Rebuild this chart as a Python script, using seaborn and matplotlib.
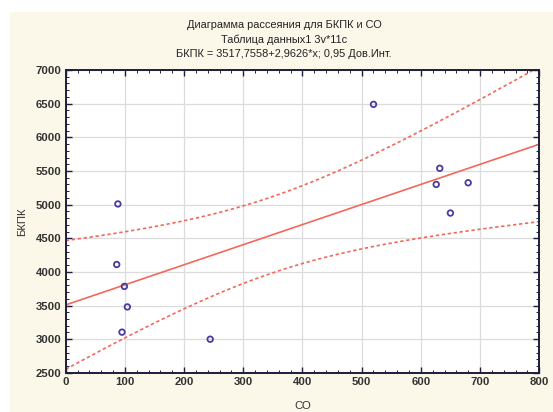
import numpy as np
import pandas as pd
import matplotlib
matplotlib.use("Agg")
import matplotlib.pyplot as plt
from matplotlib.ticker import MultipleLocator
from matplotlib.patches import Rectangle
import seaborn as sns

# Data
co = [520, 88, 86, 99, 104, 95, 244, 632, 626, 680, 650]
bkpk = [6490, 5010, 4110, 3785, 3480, 3105, 3000, 5540, 5300, 5325, 4875]

title_lines = ["Диаграмма рассеяния для БКПК и СО",
               "Таблица данных1 3v*11c",
               "БКПК = 3517,7558+2,9626*x; 0,95 Дов.Инт."]
x_label = "СО"
y_label = "БКПК"
x_ticks = [0, 100, 200, 300, 400, 500, 600, 700, 800]
y_ticks = [2500, 3000, 3500, 4000, 4500, 5000, 5500, 6000, 6500, 7000]
t_crit = 2.262  # t(0.975, df=9)

sns.set_theme(style="white")
plt.rcParams['font.family'] = ['Liberation Sans', 'DejaVu Sans']

bg = "#FBF8EA"
red = "#F2695A"
blue = "#4A3C9E"
spine_c = "#1E1E3C"

fig = plt.figure(figsize=(5.53, 4.12), dpi=100, facecolor="white")
fig.patches.append(Rectangle((10 / 553, 0), 1, 1 - 12 / 412, transform=fig.transFigure,
                             facecolor=bg, edgecolor="none", zorder=-10))
ax = fig.add_axes([0.119, 0.095, 0.856, 0.735])
ax.set_facecolor("white")

x = np.array(co, float)
y = np.array(bkpk, float)
n = len(x)
slope, intercept = np.polyfit(x, y, 1)
resid = y - (intercept + slope * x)
s = np.sqrt(np.sum(resid**2) / (n - 2))
xbar = x.mean()
sxx = np.sum((x - xbar) ** 2)
xs = np.linspace(0, 800, 300)
yh = intercept + slope * xs
se = s * np.sqrt(1 / n + (xs - xbar) ** 2 / sxx)
fit = pd.DataFrame({"x": xs, "fit": yh, "lo": yh - t_crit * se, "hi": yh + t_crit * se})

sns.lineplot(data=fit, x="x", y="fit", ax=ax, color=red, lw=1.2)
sns.lineplot(data=fit, x="x", y="lo", ax=ax, color=red, lw=1.2, linestyle=(0, (2.0, 1.6)))
sns.lineplot(data=fit, x="x", y="hi", ax=ax, color=red, lw=1.2, linestyle=(0, (2.0, 1.6)))
sns.scatterplot(x=co, y=bkpk, ax=ax, marker="o", s=16, facecolor="none",
                edgecolor=blue, linewidth=1.3, zorder=5)

ax.set_xlim(0, 800)
ax.set_ylim(2500, 7000)
ax.set_xticks(x_ticks)
ax.set_yticks(y_ticks)
ax.xaxis.set_minor_locator(MultipleLocator(20))
ax.yaxis.set_minor_locator(MultipleLocator(100))
ax.grid(True, which="major", color="#DCDCDC", lw=0.9)
ax.set_axisbelow(True)
ax.tick_params(which="both", direction="in", top=True, right=True, bottom=True, left=True,
               color=spine_c)
ax.tick_params(which="major", length=4, width=1.0, labelsize=8.2, labelcolor="#333333", pad=3)
ax.tick_params(which="minor", length=2, width=0.7)
for lab in ax.get_xticklabels() + ax.get_yticklabels():
    lab.set_fontweight("bold")
for sp in ax.spines.values():
    sp.set_color(spine_c)
    sp.set_linewidth(1.4)

ax.set_xlabel(x_label, fontsize=8.2, color="#333333", labelpad=10)
ax.set_ylabel(y_label, fontsize=8.2, color="#333333", labelpad=6)

for i, t in enumerate(title_lines):
    fig.text(284 / 553, 1 - (25 + 14.3 * i) / 412, t, ha="center", va="center",
             fontsize=7.9, color="#222222")

fig.savefig("out.png", dpi=100, facecolor="white")
